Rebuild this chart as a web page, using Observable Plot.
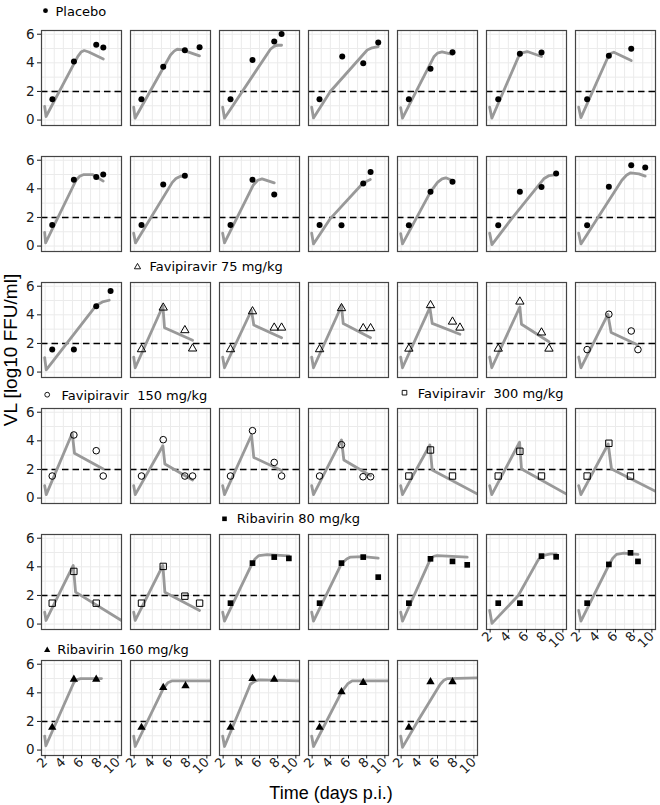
<!DOCTYPE html>
<html><head><meta charset="utf-8">
<script src="https://cdn.jsdelivr.net/npm/d3@7"></script>
<script src="https://cdn.jsdelivr.net/npm/@observablehq/plot@0.6"></script>
<style>
body{margin:0;background:#fff;}
#chart svg{display:block;}
</style>
</head><body><div id="chart"></div>
<script>
// ---------------- data ----------------
const groupNames = ["Placebo", "Favipiravir 75 mg/kg", "Favipiravir  150 mg/kg", "Favipiravir  300 mg/kg", "Ribavirin 80 mg/kg", "Ribavirin 160 mg/kg"];
const groupSizes = [15, 5, 5, 5, 5, 5];
const xTicks = [2, 4, 6, 8, 10];
const yTicks = [0, 2, 4, 6];
const threshold = 2;
const xTitle = "Time (days p.i.)";
const yTitle = "VL [log10 FFU/ml]";

// observed viral loads per animal (day p.i., log10 FFU/ml)
const obsDays = [
  [2.8,5.17,7.62,8.4],[2.8,5.2,7.58,9.2],[2.81,5.23,7.62,8.43],[2.81,5.31,7.62,9.27],[2.85,5.23,7.65],[2.89,5.27,7.65],[2.88,5.27,7.73],
  [2.78,5.16,7.62,8.39],[2.81,5.2,7.58],[2.81,5.23,7.62],[2.82,5.23,7.62,8.43],[2.85,5.23,7.65],[2.89,5.27,7.65,9.26],[2.88,5.27,7.73,9.27],
  [2.78,5.16,7.62,9.2],[2.81,5.2,7.58,8.43],[2.81,5.23,7.62,8.43],[2.82,5.23,7.62,8.43],[2.85,5.23,7.65,8.47],[2.89,5.27,7.65,8.47],[2.88,5.27,7.73,8.47],
  [2.78,5.16,7.62,8.39],[2.81,5.2,7.58,8.43],[2.81,5.23,7.62,8.43],[2.82,5.23,7.6,8.43],[2.85,5.23,7.65],[2.89,5.27,7.65],[2.88,5.27,7.65],
  [2.78,5.16,7.62],[2.81,5.2,7.58,9.2],[2.81,5.23,7.62,9.23],[2.82,5.23,7.62,9.27],[2.85,5.23,7.65,9.27],[2.89,5.27,7.65,9.26],[2.88,5.27,7.65,8.47],
  [2.78,5.16,7.62],[2.81,5.2,7.65],[2.81,5.23,7.62],[2.82,5.23,7.62],[2.85,5.23,7.65]
];
const obsVL = [
  [1.46,4.09,5.26,5.07],[1.46,3.72,4.88,5.09],[1.46,4.19,5.49,6.02],[1.46,4.44,3.97,5.42],[1.46,3.58,4.74],[1.46,4.63,4.72],[1.46,4.49,4.98],
  [1.48,4.63,4.82,5.0],[1.48,4.3,4.91],[1.48,4.63,3.61],[1.48,1.46,4.37,5.17],[1.46,3.79,4.49],[1.46,3.79,4.12,5.07],[1.46,4.14,5.65,5.49],
  [1.57,1.57,4.6,5.67],[1.59,4.5,2.92,1.64],[1.59,4.24,3.1,3.1],[1.59,4.46,3.06,3.06],[1.63,4.67,3.52,3.1],[1.63,4.92,2.76,1.63],[1.57,4.04,2.87,1.57],
  [1.54,4.41,3.31,1.54],[1.54,4.08,1.54,1.54],[1.54,4.71,2.49,1.54],[1.54,3.73,1.49,1.49],[1.54,3.36,1.54],[1.54,3.27,1.54],[1.54,3.83,1.54],
  [1.46,3.68,1.46],[1.46,4.03,1.95,1.46],[1.46,4.26,4.68,4.59],[1.46,4.26,4.68,3.28],[1.46,4.56,4.38,4.14],[1.46,1.46,4.75,4.7],[1.46,4.17,4.98,4.38],
  [1.58,4.95,4.95],[1.58,4.37,4.49],[1.58,5.0,4.95],[1.58,4.07,4.72],[1.58,4.77,4.77]
];
// model fit per animal
const fitDays = [
  [1.95,2.1,5.6,5.95,6.3,6.8,8.4],[1.95,2.1,6.0,6.4,6.74,7.2,9.19],[1.95,2.15,7.2,7.6,8.0,8.43],[1.95,2.15,4.0,8.06,8.6,9.27],[1.95,2.15,5.6,6.0,6.5,7.65],[1.95,2.19,5.1,5.5,6.08,7.65],[1.95,2.2,5.1,5.45,5.82,7.73],
  [1.95,2.05,5.4,5.8,6.26,7.2,8.39],[1.95,2.15,6.2,6.6,7.1,7.58],[1.95,2.15,5.3,5.8,6.28,7.62],[1.95,2.15,4.0,7.3,7.9,8.4],[1.95,2.15,5.23,6.0,6.5,6.9,7.65],[1.95,2.2,4.44,7.9,8.5,9.26],[1.95,2.2,6.7,7.2,7.66,8.57,9.27],
  [1.95,2.12,7.6,8.3,9.05],[1.95,2.12,5.16,5.34,8.43],[1.95,2.15,5.12,5.37,8.43],[1.95,2.15,5.23,5.42,8.43],[1.95,2.15,5.16,5.42,8.47],[1.95,2.18,5.27,5.45,8.47],[1.95,2.2,5.16,5.52,8.47],
  [1.95,2.12,4.98,5.23,8.39],[1.95,2.12,5.16,5.38,8.43],[1.95,2.15,5.12,5.37,8.43],[1.95,2.15,5.23,5.49,8.43],[1.95,2.15,5.16,5.42,10.4],[1.95,2.18,5.24,5.45,10.4],[1.95,2.2,5.2,5.56,10.4],
  [1.95,2.1,5.09,5.35,10.4],[1.95,2.12,5.16,5.38,9.2],[1.95,2.15,5.0,5.5,5.93,6.84,9.23],[1.95,2.15,5.23,5.8,6.22,7.62,9.27],[1.95,2.15,5.23,5.6,5.96,9.27],[1.95,2.2,5.1,7.3,7.9,8.65,9.26],[1.95,2.2,5.27,5.7,6.11,6.92,8.47],
  [1.95,2.08,5.16,5.5,5.9,8.2],[1.95,2.12,5.2,5.7,6.2,10.4],[1.95,2.15,5.0,5.5,5.94,10.4],[1.95,2.15,5.23,5.9,6.4,10.4],[1.95,2.15,3.85,6.3,6.7,7.1,10.4]
];
const fitVL = [
  [0.95,0.25,4.45,4.75,4.86,4.76,4.27],[0.9,0.13,4.55,4.82,4.95,4.92,4.49],[0.9,0.13,4.95,5.15,5.24,5.23],[0.9,0.15,2.0,4.9,5.05,5.14],[0.87,0.13,4.42,4.68,4.76,4.59],[0.9,0.13,4.4,4.7,4.79,4.44],[0.9,0.17,4.3,4.65,4.74,4.16],
  [0.95,0.23,4.6,4.88,5.0,5.0,4.54],[0.9,0.22,4.45,4.72,4.88,4.88],[0.9,0.22,4.25,4.6,4.7,4.42],[0.9,0.15,1.92,4.2,4.5,4.65],[0.87,0.15,3.79,4.45,4.7,4.77,4.58],[0.9,0.1,1.97,4.7,4.93,5.0],[0.9,0.15,4.6,4.95,5.12,5.05,4.89],
  [1.0,0.15,4.65,4.9,5.02],[1.05,0.3,4.62,3.1,2.22],[1.05,0.3,4.32,3.29,2.4],[1.05,0.3,4.62,3.39,2.4],[1.05,0.3,4.5,3.4,2.64],[1.05,0.3,4.55,3.34,2.12],[1.05,0.3,4.04,2.76,1.89],
  [0.87,0.24,4.53,3.13,2.03],[0.87,0.24,3.66,2.38,1.26],[0.87,0.24,4.41,2.84,1.92],[0.87,0.24,4.06,2.66,1.56],[0.87,0.24,3.71,1.96,0.28],[0.87,0.24,3.9,2.03,0.28],[0.87,0.24,3.78,2.03,0.47],
  [0.84,0.25,4.1,2.23,0.25],[0.84,0.25,4.1,2.23,0.95],[0.84,0.2,3.98,4.55,4.79,4.86,4.77],[0.84,0.2,4.22,4.55,4.68,4.72,4.61],[0.84,0.2,4.56,4.74,4.79,4.68],[0.95,0.05,2.0,4.5,4.8,4.91,4.91],[0.95,0.2,4.12,4.6,4.87,4.96,4.87],
  [0.98,0.3,4.72,4.93,5.0,5.0],[0.98,0.25,4.3,4.7,4.84,4.84],[0.98,0.25,4.6,4.82,4.9,4.84],[0.98,0.25,4.05,4.62,4.84,4.84],[0.98,0.19,2.05,4.6,4.88,5.0,5.05]
];

// ---------------- styles / layout ----------------
const groupSymbol = ["circle", "triangle", "circle", "square", "square", "triangle"];
const groupFilled = [true, false, false, false, true, true];
const groupR = [3, 3.1, 3.3, 3.6, 3.2, 3.1];
const nCols = 7;
// header for each group: [col,row, symbol dx,dy, text dx,dy, symbol r]
const headerLayout = [
  [0, 0, 4, -19.8, 14, -18.9, 2.4],
  [1, 2, 7, -15.5, 19, -15.7, 2.3],
  [0, 3, 5.7, -13.8, 20, -12.7, 2.4],
  [4, 3, 7, -15.8, 20.3, -14.7, 2.6],
  [2, 4, 5, -15.7, 17.3, -15.5, 2.6],
  [0, 5, 5.7, -10.3, 15.7, -10.2, 2.3]
];

// ---------------- build tables ----------------
const groupStart = groupSizes.map((_, g) => d3.sum(groupSizes.slice(0, g)));
const groupOf = i => groupStart.findLastIndex(s => i >= s);
const panels = obsDays.map((_, i) => ({i, col: i % nCols, row: Math.floor(i / nCols), group: groupOf(i)}));
const obs = panels.flatMap(p => obsDays[p.i].map((d, k) => ({fx: p.col, fy: p.row, day: d, vl: obsVL[p.i][k], group: p.group})));
const fit = panels.flatMap(p => fitDays[p.i].map((d, k) => ({fx: p.col, fy: p.row, day: d, vl: fitVL[p.i][k], group: p.group})));

const marks = [
  Plot.gridX({ticks: d3.range(2, 11), stroke: "#ebebeb", strokeOpacity: 1, strokeWidth: 1}),
  Plot.gridY({ticks: d3.range(0, 7), stroke: "#ebebeb", strokeOpacity: 1, strokeWidth: 1}),
  Plot.ruleY([threshold], {stroke: "#000", strokeWidth: 1.4, strokeDasharray: "6.5,4"}),
  Plot.line(fit, {
    x: "day", y: "vl", fx: "fx", fy: "fy", z: d => d.fx + "-" + d.fy,
    stroke: "#999", strokeWidth: 2.8, curve: "linear", clip: "frame", strokeLinejoin: "round", strokeLinecap: "round"
  })
];
groupNames.forEach((g, gi) => {
  marks.push(Plot.dot(obs.filter(d => d.group === gi), {
    x: "day", y: "vl", fx: "fx", fy: "fy", symbol: groupSymbol[gi], r: groupR[gi],
    fill: groupFilled[gi] ? "#000" : "none", stroke: "#000", strokeWidth: groupFilled[gi] ? 0 : 1
  }));
});
marks.push(Plot.frame({stroke: "#444", strokeWidth: 1.2}));
headerLayout.forEach(([c, r, sdx, sdy, tdx, tdy, sr], gi) => {
  const hd = [{fx: c, fy: r, name: groupNames[gi]}];
  marks.push(Plot.dot(hd, {fx: "fx", fy: "fy", frameAnchor: "top-left", dx: sdx, dy: sdy, symbol: groupSymbol[gi], r: sr,
    fill: groupFilled[gi] ? "#000" : "none", stroke: "#000", strokeWidth: groupFilled[gi] ? 0 : 0.9}));
  marks.push(Plot.text(hd, {fx: "fx", fy: "fy", frameAnchor: "top-left", dx: tdx, dy: tdy, text: "name",
    textAnchor: "start", lineAnchor: "middle", fontSize: 13, fill: "#000"}));
});
marks.push(Plot.axisY({ticks: yTicks, tickFormat: d3.format("d"), tickSize: 4, tickPadding: 3, label: null, facetAnchor: "left", fontSize: 13.5}));
marks.push(Plot.axisX({ticks: xTicks, tickFormat: d3.format("d"), tickSize: 3.5, tickPadding: 1, tickRotate: -45, label: null, facetAnchor: "bottom-empty", fontSize: 13}));

const chart = Plot.plot({
  width: 660, height: 805,
  marginLeft: 41, marginRight: 5, marginTop: 29, marginBottom: 50,
  style: {fontFamily: "'DejaVu Sans', sans-serif", fontSize: "13px", color: "#1a1a1a", background: "#fff", overflow: "visible"},
  x: {domain: [1.6, 10.4]},
  y: {domain: [-0.38, 6.26]},
  fx: {domain: d3.range(7), paddingInner: 9 / 89, paddingOuter: 0, axis: null},
  fy: {domain: d3.range(6), paddingInner: 0.25, paddingOuter: 0, axis: null},
  marks
});

const svg = d3.select(chart);
svg.append("text").attr("x", 331).attr("y", 799).attr("text-anchor", "middle")
  .style("font-family", "'Liberation Sans', Arial, sans-serif").style("font-size", "18px").style("fill", "#000")
  .text(xTitle);
svg.append("text").attr("transform", "translate(17,350) rotate(-90)").attr("text-anchor", "middle")
  .style("font-family", "'Liberation Sans', Arial, sans-serif").style("font-size", "19px").style("fill", "#000")
  .text(yTitle);
svg.selectAll("text").filter(function(){ return /  /.test(this.textContent); }).style("white-space", "pre");
document.getElementById("chart").append(chart);
</script>
</body></html>
